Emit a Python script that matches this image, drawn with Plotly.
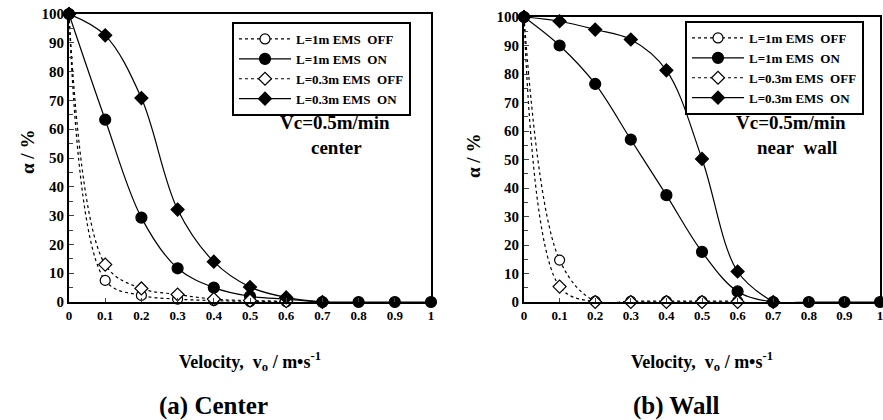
import plotly.graph_objects as go

# ---- data ----
x_vals = [0, 0.1, 0.2, 0.3, 0.4, 0.5, 0.6, 0.7, 0.8, 0.9, 1.0]

# (a) Center
c_l1_off = [100, 7.5, 2.3, 1.0, 0.5, 0.2, 0.1]
c_l1_on = [100, 63.3, 29.3, 11.7, 5.0, 2.0, 1.0, 0, 0, 0, 0]
c_l03_off = [100, 13.0, 4.7, 2.6, 1.0, 0.5, 0.3]
c_l03_on = [100, 92.6, 70.8, 32.1, 14.0, 5.2, 1.6, 0]

# (b) Wall
w_l1_off = [100, 14.7, 0.3, 0.3, 0.3, 0.3, 0.3]
w_l1_on = [100, 90.0, 76.5, 57.0, 37.5, 17.6, 3.7, 0, 0, 0, 0]
w_l03_off = [100, 5.4, 0, 0, 0, 0, 0]
w_l03_on = [100, 98.5, 95.6, 92.1, 81.3, 50.2, 10.7, 0]

series_names = ["L=1m EMS\u00a0 OFF", "L=1m EMS\u00a0 ON", "L=0.3m EMS\u00a0 OFF", "L=0.3m EMS\u00a0 ON"]
x_ticks = [0, 0.1, 0.2, 0.3, 0.4, 0.5, 0.6, 0.7, 0.8, 0.9, 1]
x_tick_text = ["0", "0.1", "0.2", "0.3", "0.4", "0.5", "0.6", "0.7", "0.8", "0.9", "1"]
y_ticks = [0, 10, 20, 30, 40, 50, 60, 70, 80, 90, 100]

FONT = "Liberation Serif"

W, H = 883, 420


def px(x):
    return x / W


def py(y):
    return 1 - y / H


styles = [
    dict(dash="dot", symbol="circle", fill="white", size=10),
    dict(dash="solid", symbol="circle", fill="black", size=11),
    dict(dash="dot", symbol="diamond", fill="white", size=10),
    dict(dash="solid", symbol="diamond", fill="black", size=10),
]

fig = go.Figure()

panels = [
    ("x", "y", "legend", [c_l1_off, c_l1_on, c_l03_off, c_l03_on]),
    ("x2", "y2", "legend2", [w_l1_off, w_l1_on, w_l03_off, w_l03_on]),
]

for xa, ya, leg, data in panels:
    for name, vals, st in zip(series_names, data, styles):
        fig.add_trace(go.Scatter(
            x=x_vals[:len(vals)], y=vals, name=name,
            xaxis=xa, yaxis=ya, legend=leg,
            mode="lines+markers",
            line=dict(color="black", width=1.2, dash=st["dash"], shape="spline", smoothing=1),
            marker=dict(symbol=st["symbol"], size=st["size"], color=st["fill"],
                        line=dict(color="black", width=1.2)),
            cliponaxis=False,
        ))

axis_common = dict(showline=True, linecolor="black", linewidth=2, mirror=True,
                   showgrid=False, zeroline=False, automargin=False,
                   ticklabeloverflow="allow")

fig.update_layout(
    template="none",
    width=W, height=H,
    margin=dict(l=0, r=0, t=0, b=0, autoexpand=False),
    paper_bgcolor="white", plot_bgcolor="white",
    font=dict(family=FONT, color="black"),
    xaxis=dict(domain=[px(69), px(431)], range=[0, 1], anchor="y",
               tickvals=x_ticks, ticktext=x_tick_text, ticks="inside", ticklen=4,
               tickfont=dict(size=13, family=FONT, weight="bold"), **axis_common),
    yaxis=dict(domain=[py(302), py(14)], range=[0, 100], anchor="x",
               tickvals=y_ticks, ticks="inside", ticklen=5,
               minor=dict(dtick=5, ticks="inside", ticklen=4),
               tickfont=dict(size=15, family=FONT, weight="bold"), **axis_common),
    xaxis2=dict(domain=[px(524), px(880)], range=[0, 1], anchor="y2",
                tickvals=x_ticks, ticktext=x_tick_text, ticks="inside", ticklen=4,
                tickfont=dict(size=13, family=FONT, weight="bold"), **axis_common),
    yaxis2=dict(domain=[py(302), py(17)], range=[0, 100], anchor="x2",
                tickvals=y_ticks, ticks="inside", ticklen=5,
                minor=dict(dtick=5, ticks="inside", ticklen=4),
                tickfont=dict(size=15, family=FONT, weight="bold"), **axis_common),
    legend=dict(x=px(232), y=py(22), xanchor="left", yanchor="top",
                bordercolor="black", borderwidth=2, bgcolor="white",
                font=dict(size=13, family=FONT, weight="bold"),
                itemwidth=52, tracegroupgap=0),
    legend2=dict(x=px(685), y=py(21), xanchor="left", yanchor="top",
                 bordercolor="black", borderwidth=2, bgcolor="white",
                 font=dict(size=13, family=FONT, weight="bold"),
                 itemwidth=52, tracegroupgap=0),
)

ann_font = dict(family=FONT, color="black", weight="bold")
annotations = [
    dict(text="Vc=0.5m/min", x=335, y=122, size=19),
    dict(text="center", x=336, y=147, size=19),
    dict(text="Vc=0.5m/min", x=791, y=122, size=19),
    dict(text="near\u00a0 wall", x=797, y=147, size=19),
    dict(text="Velocity,\u00a0 v<sub>o</sub> / m\u2022s<sup>-1</sup>", x=250, y=361, size=18),
    dict(text="Velocity,\u00a0 v<sub>o</sub> / m\u2022s<sup>-1</sup>", x=702, y=361, size=18),
    dict(text="(a) Center", x=213, y=406, size=25),
    dict(text="(b) Wall", x=676, y=406, size=25),
]
for a in annotations:
    fig.add_annotation(text=a["text"], x=px(a["x"]), y=py(a["y"]), xref="paper", yref="paper",
                       showarrow=False, xanchor="center", yanchor="middle",
                       font=dict(size=a["size"], **ann_font))

for xpos, ypos in [(27, 152), (473, 156)]:
    fig.add_annotation(text="\u03b1 / %", x=px(xpos), y=py(ypos), xref="paper", yref="paper",
                       showarrow=False, textangle=-90, xanchor="center", yanchor="middle",
                       font=dict(size=19, **ann_font))

# remove the browser's default 8px body margin so the figure fills the window exactly
fig.write_html("out.html", config={"displayModeBar": False},
               post_script="document.body.style.margin='0';document.body.style.overflow='hidden';")
